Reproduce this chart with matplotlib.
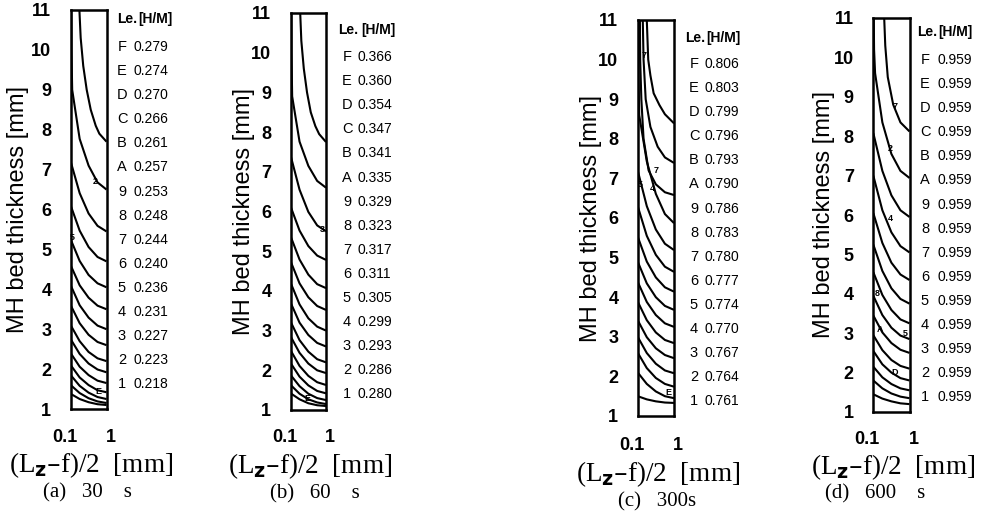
import matplotlib
matplotlib.use("Agg")
import matplotlib.pyplot as plt

# ---------------- data ----------------
LEVEL_KEYS = ['F', 'E', 'D', 'C', 'B', 'A', '9', '8', '7', '6', '5', '4', '3', '2', '1']
HM_30S = [0.279, 0.274, 0.270, 0.266, 0.261, 0.257, 0.253, 0.248, 0.244, 0.240,
          0.236, 0.231, 0.227, 0.223, 0.218]
HM_60S = [0.366, 0.360, 0.354, 0.347, 0.341, 0.335, 0.329, 0.323, 0.317, 0.311,
          0.305, 0.299, 0.293, 0.286, 0.280]
HM_300S = [0.806, 0.803, 0.799, 0.796, 0.793, 0.790, 0.786, 0.783, 0.780, 0.777,
           0.774, 0.770, 0.767, 0.764, 0.761]
HM_600S = [0.959, 0.959, 0.959, 0.959, 0.959, 0.959, 0.959, 0.959, 0.959, 0.959,
           0.959, 0.959, 0.959, 0.959, 0.959]
CAPTIONS = ['(a)   30    s', '(b)   60    s', '(c)   300s', '(d)   600    s']
Y_TICKS = [1, 2, 3, 4, 5, 6, 7, 8, 9, 10, 11]
X_TICKS = [0.1, 1]
X_TICK_LABELS = ['0.1', '1']

# common x positions (mm) at which contour heights were read
X5 = [0.1, 0.178, 0.316, 0.562, 1.0]

# contour lines: (x list, y list)
LINES_30S = [
    ([0.175, 0.19, 0.224, 0.28, 0.363, 0.5, 0.631, 1.0], [11, 10.3, 9.6, 9.0, 8.5, 8.1, 7.9, 7.7]),
    ([0.104, 0.105, 0.11, 0.178, 0.316, 0.562, 1.0], [11, 10.0, 9.0, 7.77, 7.1, 6.68, 6.5]),
    (X5, [7.2, 6.41, 5.9, 5.59, 5.45]),
    (X5, [6.1, 5.47, 5.06, 4.81, 4.7]),
    (X5, [5.25, 4.71, 4.36, 4.15, 4.05]),
    (X5, [4.6, 4.1, 3.79, 3.59, 3.5]),
    (X5, [4.1, 3.6, 3.29, 3.09, 3.0]),
    (X5, [3.6, 3.15, 2.86, 2.68, 2.6]),
    (X5, [3.1, 2.7, 2.43, 2.27, 2.2]),
    (X5, [2.75, 2.38, 2.14, 1.99, 1.92]),
    (X5, [2.4, 2.06, 1.85, 1.71, 1.65]),
    (X5, [2.1, 1.79, 1.6, 1.47, 1.42]),
    (X5, [1.85, 1.58, 1.41, 1.3, 1.25]),
    (X5, [1.6, 1.4, 1.27, 1.19, 1.15]),
    (X5, [1.38, 1.25, 1.17, 1.12, 1.1]),
]
LINES_60S = [
    ([0.186, 0.2, 0.235, 0.29, 0.37, 0.5, 0.64, 1.0], [11, 10.3, 9.6, 9.0, 8.5, 8.15, 7.95, 7.75]),
    ([0.104, 0.105, 0.11, 0.178, 0.316, 0.562, 1.0], [11, 10.0, 8.9, 7.76, 7.15, 6.77, 6.6]),
    (X5, [7.4, 6.55, 5.99, 5.65, 5.5]),
    (X5, [6.12, 5.52, 5.13, 4.89, 4.78]),
    (X5, [5.37, 4.79, 4.41, 4.17, 4.07]),
    (X5, [4.74, 4.19, 3.84, 3.62, 3.52]),
    (X5, [4.2, 3.66, 3.31, 3.1, 3.0]),
    (X5, [3.7, 3.2, 2.89, 2.69, 2.6]),
    (X5, [3.22, 2.76, 2.47, 2.28, 2.2]),
    (X5, [2.85, 2.44, 2.17, 2.0, 1.93]),
    (X5, [2.5, 2.11, 1.86, 1.7, 1.63]),
    (X5, [2.18, 1.84, 1.62, 1.48, 1.42]),
    (X5, [1.88, 1.6, 1.41, 1.3, 1.25]),
    (X5, [1.63, 1.41, 1.27, 1.19, 1.15]),
    (X5, [1.42, 1.27, 1.17, 1.12, 1.1]),
]
LINES_300S = [
    ([0.178, 0.195, 0.224, 0.275, 0.398, 0.562, 1.0], [11, 10.0, 9.6, 9.15, 8.85, 8.62, 8.39]),
    ([0.138, 0.145, 0.166, 0.224, 0.355, 0.562, 1.0], [11, 10.0, 9.0, 8.3, 7.8, 7.53, 7.39]),
    ([0.115, 0.117, 0.126, 0.145, 0.2, 0.316, 0.562, 1.0], [11, 10.0, 9.0, 8.0, 7.2, 6.85, 6.65, 6.58]),
    ([0.104, 0.105, 0.11, 0.178, 0.316, 0.562, 1.0], [11, 9.6, 8.6, 7.43, 6.61, 6.1, 5.87]),
    (X5, [7.2, 6.3, 5.71, 5.35, 5.19]),
    (X5, [6.3, 5.55, 5.07, 4.77, 4.64]),
    (X5, [5.53, 4.9, 4.5, 4.25, 4.14]),
    (X5, [4.9, 4.35, 4.0, 3.78, 3.68]),
    (X5, [4.39, 3.88, 3.55, 3.34, 3.25]),
    (X5, [3.89, 3.42, 3.11, 2.92, 2.84]),
    (X5, [3.42, 2.99, 2.71, 2.54, 2.46]),
    (X5, [3.0, 2.59, 2.32, 2.15, 2.08]),
    (X5, [2.6, 2.21, 1.96, 1.81, 1.74]),
    (X5, [2.1, 1.81, 1.62, 1.5, 1.45]),
    (X5, [1.5, 1.42, 1.37, 1.34, 1.33]),
]
LINES_600S = [
    ([0.2, 0.214, 0.251, 0.355, 0.562, 1.0], [11, 10.3, 9.5, 8.8, 8.35, 8.12]),
    ([0.103, 0.105, 0.112, 0.178, 0.316, 0.562, 1.0], [11, 10.2, 9.6, 8.35, 7.55, 7.12, 6.94]),
    (X5, [8.08, 7.12, 6.5, 6.12, 5.95]),
    (X5, [7.0, 6.12, 5.56, 5.21, 5.05]),
    (X5, [6.05, 5.29, 4.79, 4.49, 4.35]),
    (X5, [5.25, 4.58, 4.14, 3.87, 3.75]),
    (X5, [4.55, 3.97, 3.59, 3.35, 3.25]),
    (X5, [3.95, 3.46, 3.14, 2.94, 2.85]),
    (X5, [3.45, 3.02, 2.75, 2.58, 2.5]),
    (X5, [2.95, 2.57, 2.32, 2.17, 2.1]),
    (X5, [2.55, 2.21, 2.0, 1.86, 1.8]),
    (X5, [2.15, 1.88, 1.71, 1.6, 1.55]),
    (X5, [1.8, 1.6, 1.47, 1.39, 1.35]),
    (X5, [1.45, 1.34, 1.27, 1.22, 1.2]),
]
# small in-line contour labels: (text, x, y)
TAGS_30S = [('2', 0.5, 6.7), ('5', 0.112, 5.3), ('E', 0.6, 1.45)]
TAGS_60S = [('3', 0.8, 5.55), ('E', 0.3, 1.3)]
TAGS_300S = [('7', 0.15, 10.1), ('7', 0.33, 7.2), ('4', 0.25, 6.75), ('5', 0.115, 6.85), ('E', 0.7, 1.6)]
TAGS_600S = [('7', 0.4, 8.75), ('2', 0.3, 7.7), ('4', 0.3, 5.9), ('8', 0.13, 4.0),
             ('A', 0.15, 3.1), ('5', 0.75, 3.0), ('D', 0.4, 2.0)]

# ---------------- layout (pixels) ----------------
W, H = 996, 519
PANELS = [
    dict(box=(70.7, 10, 106.5, 409), lines=LINES_30S, tags=TAGS_30S, hm=HM_30S,
         ylab_x=18, xt_y=437, xl_y=465, cap_y=493, cap_x=87,
         leg=(117, 138, 122, 133, 19, 47)),
    dict(box=(290.7, 13, 326, 410), lines=LINES_60S, tags=TAGS_60S, hm=HM_60S,
         ylab_x=244, xt_y=438, xl_y=466, cap_y=494, cap_x=315,
         leg=(338, 361, 347, 358, 30, 57)),
    dict(box=(637.7, 20, 674, 416), lines=LINES_300S, tags=TAGS_300S, hm=HM_300S,
         ylab_x=591, xt_y=445, xl_y=474, cap_y=502, cap_x=657,
         leg=(685, 706, 694, 704, 38, 64)),
    dict(box=(873.3, 18, 909.5, 412), lines=LINES_600S, tags=TAGS_600S, hm=HM_600S,
         ylab_x=824, xt_y=440, xl_y=467, cap_y=494, cap_x=875,
         leg=(917, 938, 925, 937, 32, 60)),
]
LEG_STEP = 24.1

SANS = ['Liberation Sans', 'DejaVu Sans']
SERIF = ['Liberation Serif', 'DejaVu Serif']

fig = plt.figure(figsize=(W / 100, H / 100), dpi=100)
fig.patch.set_facecolor('white')


def fx(px):
    return px / W


def fy(py):
    return 1 - py / H


for i, p in enumerate(PANELS):
    x0, y0, x1, y1 = p['box']
    ax = fig.add_axes([fx(x0), fy(y1), (x1 - x0) / W, (y1 - y0) / H])
    ax.set_xscale('log')
    ax.set_xlim(0.1, 1)
    ax.set_ylim(1, 11)
    for xs, ys in p['lines']:
        ax.plot(xs, ys, color='black', lw=1.5, solid_capstyle='butt')
    for t, tx, ty in p['tags']:
        ax.text(tx, ty, t, fontsize=6.5, family=SANS, weight='bold', ha='center',
                va='center', color='black')
    for s in ax.spines.values():
        s.set_linewidth(1.8)
    ax.set_yticks(Y_TICKS)
    ax.set_yticklabels([str(v) for v in Y_TICKS], family=SANS, fontsize=13, weight='bold')
    ax.set_xticks(X_TICKS)
    ax.set_xticklabels([])
    ax.xaxis.set_minor_locator(matplotlib.ticker.NullLocator())
    ax.tick_params(axis='y', length=0, pad=14)
    ax.tick_params(axis='x', length=0)
    # x tick labels
    fig.text(fx(x0 - 6), fy(p['xt_y']), X_TICK_LABELS[0], family=SANS, fontsize=13,
             weight='bold', ha='center', va='center')
    fig.text(fx(x1 + 4), fy(p['xt_y']), X_TICK_LABELS[1], family=SANS, fontsize=13,
             weight='bold', ha='center', va='center')
    cx = (x0 + x1) / 2
    fig.text(fx(cx + 2), fy(p['xl_y']), '(L$_{\\mathbf{z}}$\u2013f)/2  [mm]', family=SERIF,
             fontsize=19.5, ha='center', va='center')
    fig.text(fx(p['cap_x']), fy(p['cap_y']), CAPTIONS[i], family=SERIF, fontsize=15,
             ha='center', va='center')
    fig.text(fx(p['ylab_x']), fy((y0 + y1) / 2), 'MH bed thickness [mm]', family=SANS,
             fontsize=17, rotation=90, ha='center', va='center')
    # legend table
    lx_le, lx_hm, lx_key, lx_val, ly_head, ly_first = p['leg']
    fig.text(fx(lx_le), fy(ly_head), 'Le.', family=SANS, fontsize=10, weight='bold',
             ha='left', va='center')
    fig.text(fx(lx_hm), fy(ly_head), '[H/M]', family=SANS, fontsize=10, weight='bold',
             ha='left', va='center')
    for k, (key, val) in enumerate(zip(LEVEL_KEYS, p['hm'])):
        yy = ly_first + k * LEG_STEP
        fig.text(fx(lx_key), fy(yy), key, family=SANS, fontsize=10.5, ha='center',
                 va='center')
        fig.text(fx(lx_val), fy(yy), f'{val:.3f}', family=SANS, fontsize=10,
                 ha='left', va='center')

fig.savefig('out.png', dpi=100, facecolor='white')
